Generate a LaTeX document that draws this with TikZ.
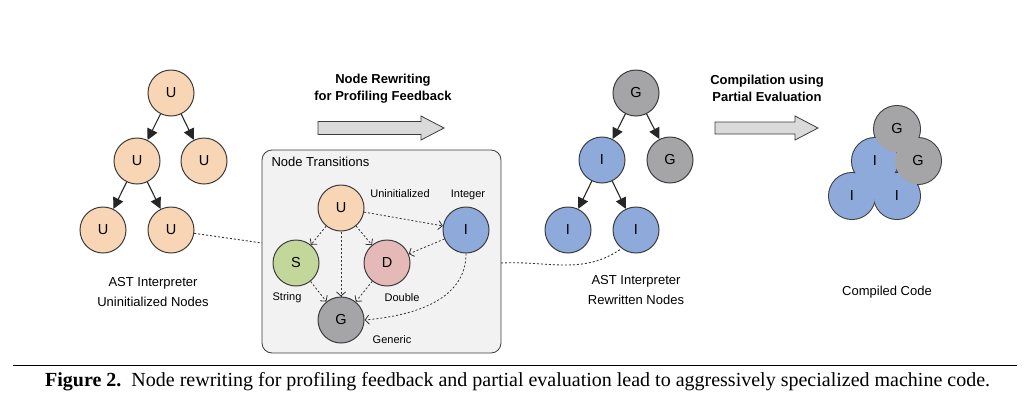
\documentclass[tikz,border=0pt]{standalone}
\usepackage{fontspec}
\setmainfont{Liberation Serif}
\setsansfont{Liberation Sans}
\usetikzlibrary{arrows.meta}

\definecolor{uninit}{RGB}{248,213,180}
\definecolor{intblue}{RGB}{142,170,219}
\definecolor{gengray}{RGB}{165,165,168}
\definecolor{strgreen}{RGB}{196,215,155}
\definecolor{dblpink}{RGB}{229,185,183}
\definecolor{edgegray}{RGB}{60,60,60}
\definecolor{boxfill}{RGB}{241,242,241}
\definecolor{blockfill}{RGB}{218,218,218}

\begin{document}
\begin{tikzpicture}[x=1pt,y=1pt,
  astnode/.style={circle,draw=edgegray,line width=1pt,minimum size=46pt,inner sep=0pt,
    font=\sffamily\fontsize{14.5}{14.5}\selectfont},
  treeedge/.style={-{Triangle[length=11pt,width=11pt]},line width=1.1pt,black!85},
  transedge/.style={dash pattern=on 2pt off 2pt,-{Straight Barb[length=4pt,width=9pt]},line width=0.8pt,black!80},
  linkline/.style={dash pattern=on 2pt off 2pt,line width=0.9pt,black!80},
  blockarrow/.style={draw=edgegray,fill=blockfill,line width=0.8pt},
  heading/.style={align=center,font=\sffamily\bfseries\fontsize{13}{17}\selectfont},
  caption/.style={align=center,font=\sffamily\fontsize{13}{20}\selectfont},
  tag/.style={font=\sffamily\fontsize{11}{11}\selectfont}]
  \useasboundingbox (0,0) rectangle (1030,-405);

  %uninitialized tree
  \node[astnode,fill=uninit] (u1) at (171,-93) {U};
  \node[astnode,fill=uninit] (u2) at (137,-161) {U};
  \node[astnode,fill=uninit] (u3) at (204,-161) {U};
  \node[astnode,fill=uninit] (u4) at (103,-230) {U};
  \node[astnode,fill=uninit] (u5) at (171,-230) {U};
  \draw[treeedge] (u1) -- (u2);
  \draw[treeedge] (u1) -- (u3);
  \draw[treeedge] (u2) -- (u4);
  \draw[treeedge] (u2) -- (u5);
  \node[caption] (ulabel) at (153,-292) {AST Interpreter\\Uninitialized Nodes};

  %first block arrow
  \draw[blockarrow] (318,-121.5) -- (421,-121.5) -- (421,-116) -- (444,-128)
    -- (421,-140) -- (421,-134.5) -- (318,-134.5) -- cycle;
  \node[heading] (rewrite) at (383,-89) {Node Rewriting\\for Profiling Feedback};

  %node transitions box
  \node[draw=edgegray,fill=boxfill,rounded corners=10pt,line width=0.8pt,
    minimum width=239pt,minimum height=203pt] (trans) at (381.5,-251.5) {};
  \node[anchor=west,tag,font=\sffamily\fontsize{13}{13}\selectfont] (ttitle) at (268,-162) {Node Transitions};
  \node[astnode,fill=uninit] (tu) at (341,-208) {U};
  \node[astnode,fill=intblue] (ti) at (466,-230) {I};
  \node[astnode,fill=strgreen] (ts) at (296,-263) {S};
  \node[astnode,fill=dblpink] (td) at (387,-263) {D};
  \node[astnode,fill=gengray] (tg) at (341,-320) {G};
  \node[tag] (lu) at (400,-194) {Uninitialized};
  \node[tag] (li) at (468,-195) {Integer};
  \node[tag] (ls) at (287,-298) {String};
  \node[tag] (ld) at (402,-298) {Double};
  \node[tag] (lg) at (392,-340) {Generic};
  \draw[transedge] (tu) -- (ti);
  \draw[transedge] (tu) -- (ts);
  \draw[transedge] (tu) -- (tg);
  \draw[transedge] (tu) -- (td);
  \draw[transedge] (ti) -- (td);
  \draw[transedge] (ts) -- (tg);
  \draw[transedge] (td) -- (tg);
  \draw[transedge] (ti.south) to[out=-90,in=5] (tg.east);

  %rewritten tree
  \node[astnode,fill=gengray] (g1) at (636,-93) {G};
  \node[astnode,fill=intblue] (i1) at (602,-160) {I};
  \node[astnode,fill=gengray] (g2) at (670,-160) {G};
  \node[astnode,fill=intblue] (i2) at (568,-230) {I};
  \node[astnode,fill=intblue] (i3) at (636,-230) {I};
  \draw[treeedge] (g1) -- (i1);
  \draw[treeedge] (g1) -- (g2);
  \draw[treeedge] (i1) -- (i2);
  \draw[treeedge] (i1) -- (i3);
  \node[caption] (rlabel) at (636,-290) {AST Interpreter\\Rewritten Nodes};

  %dotted links into and out of the box
  \coordinate (tin) at (262,-243);
  \coordinate (tout) at (501,-263);
  \draw[linkline] (u5) -- (tin);
  \draw[linkline] (tout) to[out=3,in=-145] (i3.-128);

  %second block arrow
  \draw[blockarrow] (715,-122) -- (795,-122) -- (795,-116) -- (818,-128)
    -- (795,-140) -- (795,-134) -- (715,-134) -- cycle;
  \node[heading] (compile) at (767,-88) {Compilation using\\Partial Evaluation};

  %compiled code
  \foreach \p in {(852,-196),(897,-196),(875,-161),(897,-129),(918,-161)}
    \draw[edgegray,line width=2pt] \p circle (23);
  \foreach \p in {(852,-196),(897,-196),(875,-161)}
    \fill[intblue] \p circle (23);
  \fill[intblue] (875,-161) -- (852,-196) -- (897,-196) -- cycle;
  \foreach \p in {(897,-129),(918,-161)}
    \fill[gengray] \p circle (23);
  \node[astnode,draw=none] (cg1) at (897,-129) {G};
  \node[astnode,draw=none] (ci1) at (875,-161) {I};
  \node[astnode,draw=none] (cg2) at (918,-161) {G};
  \node[astnode,draw=none] (ci2) at (852,-196) {I};
  \node[astnode,draw=none] (ci3) at (897,-196) {I};
  \node[caption] (clabel) at (887,-292) {Compiled Code};

  %figure caption
  \draw[line width=1pt] (13,-365) -- (1017,-365);
  \node[anchor=west,inner sep=0pt,font=\fontsize{20}{20}\selectfont] (figcap) at (45,-382)
    {\textbf{Figure 2.}\ \ Node rewriting for profiling feedback and partial evaluation lead to aggressively specialized machine code.};
\end{tikzpicture}
\end{document}
